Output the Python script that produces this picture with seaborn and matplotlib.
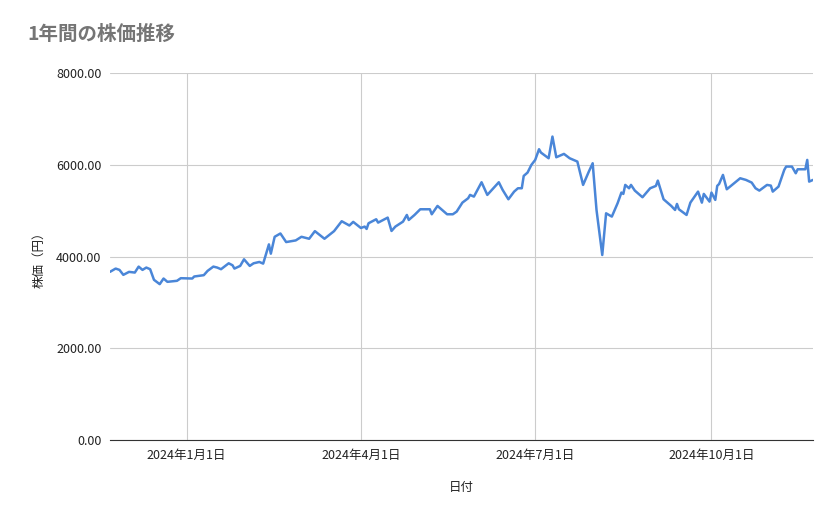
import pandas as pd
import matplotlib
matplotlib.use("Agg")
import matplotlib.pyplot as plt
import matplotlib.dates as mdates
from matplotlib.ticker import FuncFormatter
import seaborn as sns

# values
dates = [
    "2023-11-22", "2023-11-25", "2023-11-27", "2023-11-29", "2023-12-02", "2023-12-05",
    "2023-12-07", "2023-12-09", "2023-12-11", "2023-12-13", "2023-12-15", "2023-12-18",
    "2023-12-20", "2023-12-22", "2023-12-27", "2023-12-29", "2024-01-04", "2024-01-05",
    "2024-01-10", "2024-01-12", "2024-01-15", "2024-01-17", "2024-01-19", "2024-01-23",
    "2024-01-25", "2024-01-26", "2024-01-29", "2024-01-31", "2024-02-03", "2024-02-05",
    "2024-02-08", "2024-02-10", "2024-02-13", "2024-02-14", "2024-02-16", "2024-02-19",
    "2024-02-22", "2024-02-27", "2024-03-01", "2024-03-05", "2024-03-08", "2024-03-13",
    "2024-03-18", "2024-03-22", "2024-03-26", "2024-03-28", "2024-04-01", "2024-04-03",
    "2024-04-04", "2024-04-05", "2024-04-09", "2024-04-10", "2024-04-15", "2024-04-17",
    "2024-04-19", "2024-04-23", "2024-04-25", "2024-04-26", "2024-04-29", "2024-05-02",
    "2024-05-07", "2024-05-08", "2024-05-11", "2024-05-13", "2024-05-16", "2024-05-19",
    "2024-05-21", "2024-05-24", "2024-05-27", "2024-05-28", "2024-05-30", "2024-06-03",
    "2024-06-06", "2024-06-12", "2024-06-14", "2024-06-17", "2024-06-20", "2024-06-22",
    "2024-06-24", "2024-06-25", "2024-06-27", "2024-06-29", "2024-07-01", "2024-07-03",
    "2024-07-04", "2024-07-08", "2024-07-10", "2024-07-12", "2024-07-16", "2024-07-19",
    "2024-07-23", "2024-07-26", "2024-07-29", "2024-07-31", "2024-08-02", "2024-08-05",
    "2024-08-07", "2024-08-10", "2024-08-13", "2024-08-15", "2024-08-16", "2024-08-17",
    "2024-08-19", "2024-08-20", "2024-08-22", "2024-08-26", "2024-08-30", "2024-09-02",
    "2024-09-03", "2024-09-06", "2024-09-10", "2024-09-12", "2024-09-13", "2024-09-14",
    "2024-09-18", "2024-09-20", "2024-09-24", "2024-09-26", "2024-09-27", "2024-09-30",
    "2024-10-01", "2024-10-03", "2024-10-04", "2024-10-05", "2024-10-07", "2024-10-09",
    "2024-10-16", "2024-10-19", "2024-10-22", "2024-10-24", "2024-10-26", "2024-10-30",
    "2024-11-01", "2024-11-02", "2024-11-05", "2024-11-08", "2024-11-09", "2024-11-12",
    "2024-11-14", "2024-11-15", "2024-11-19", "2024-11-20", "2024-11-21", "2024-11-23",
]
prices = [
    3668, 3740, 3711, 3603, 3668, 3653,
    3783, 3711, 3762, 3726, 3495, 3400,
    3523, 3451, 3473, 3530, 3523, 3567,
    3596, 3690, 3783, 3762, 3726, 3855,
    3812, 3740, 3798, 3942, 3798, 3855,
    3884, 3848, 4267, 4065, 4433, 4505,
    4318, 4354, 4433, 4390, 4556, 4390,
    4556, 4772, 4679, 4758, 4625, 4655,
    4604, 4728, 4815, 4742, 4851, 4560,
    4655, 4764, 4909, 4800, 4909, 5033,
    5033, 4924, 5106, 5033, 4924, 4924,
    4982, 5178, 5273, 5346, 5309, 5622,
    5346, 5622, 5455, 5251, 5418, 5491,
    5491, 5760, 5833, 6000, 6109, 6342,
    6269, 6145, 6618, 6167, 6240, 6145,
    6073, 5564, 5855, 6036, 5018, 4036,
    4945, 4873, 5164, 5397, 5368, 5564,
    5491, 5564, 5440, 5295, 5491, 5542,
    5658, 5251, 5106, 5018, 5149, 5033,
    4909, 5178, 5418, 5178, 5368, 5200,
    5397, 5237, 5542, 5585, 5782, 5469,
    5709, 5673, 5615, 5491, 5440, 5564,
    5549, 5418, 5527, 5891, 5964, 5964,
    5818, 5905, 5905, 6109, 5636, 5673,
]
yticks = [0, 2000, 4000, 6000, 8000]
xticks = ["2024-01-01", "2024-04-01", "2024-07-01", "2024-10-01"]

df = pd.DataFrame({"日付": pd.to_datetime(dates), "株価": prices})

sns.set_style("white")
plt.rcParams["font.family"] = ["Noto Sans CJK JP", "DejaVu Sans"]

fig = plt.figure(figsize=(8.39, 5.19), dpi=100)
ax = fig.add_axes([0.131, 0.152, 0.838, 0.707])
sns.lineplot(data=df, x="日付", y="株価", ax=ax, color="#4a86d8", linewidth=1.8)

ax.set_ylim(0, 8000)
ax.set_yticks(yticks)
ax.yaxis.set_major_formatter(FuncFormatter(lambda v, p: f"{v:.2f}"))
ax.set_xlim(pd.Timestamp("2023-11-22"), pd.Timestamp("2024-11-23"))
xt = pd.to_datetime(xticks)
ax.set_xticks(xt)
ax.set_xticklabels([f"{d.year}年{d.month}月{d.day}日" for d in xt])
ax.grid(True, color="#cccccc", linewidth=0.8)
ax.tick_params(length=0, labelsize=9, colors="#222222", pad=6)
for s in ["top", "right", "left"]:
    ax.spines[s].set_visible(False)
ax.spines["bottom"].set_color("#333333")

ax.set_xlabel("日付", fontsize=9, labelpad=14, color="#222222")
ax.set_ylabel("株価（円）", fontsize=9, labelpad=8, color="#222222")
fig.text(0.033, 0.924, "1年間の株価推移", fontsize=14, color="#757575", fontweight="bold")

fig.savefig("out.png", dpi=100)
